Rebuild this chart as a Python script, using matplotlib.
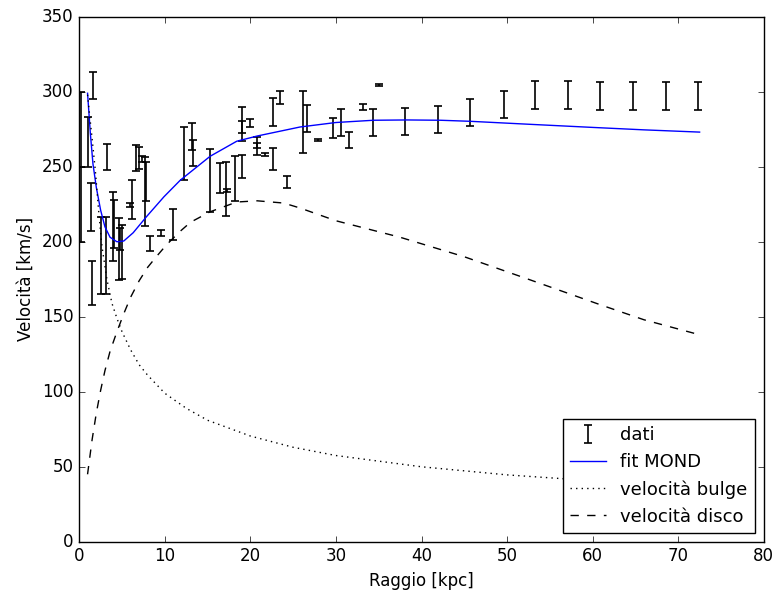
import matplotlib
matplotlib.use('Agg')
import matplotlib.pyplot as plt

# dati osservati: raggio [kpc], velocita [km/s], errore [km/s]
r_dati = [0.25, 0.25, 0.97, 1.4, 1.5, 1.65, 2.5, 3.1, 3.2, 4.0, 4.1, 4.6, 4.8, 5.0,
          5.9, 6.15, 6.6, 7.0, 7.3, 7.7, 7.75, 8.3, 9.5, 11.0, 12.2, 13.2, 13.3,
          15.3, 16.4, 17.2, 17.3, 18.2, 19.0, 19.05, 19.0, 20.0, 20.75, 20.8, 21.7,
          22.7, 22.7, 23.5, 24.3, 26.1, 26.6, 27.9, 29.6, 30.6, 31.5, 33.2, 34.3,
          35.0, 38.1, 41.9, 45.7, 49.6, 53.3, 57.1, 60.9, 64.7, 68.6, 72.3]
v_dati = [274.8, 224.8, 266.5, 223.0, 172.7, 304.2, 191.0, 191.0, 256.7, 210.2, 212.0,
          195.3, 202.0, 193.0, 224.6, 228.0, 255.8, 256.0, 255.2, 233.5, 240.4, 198.8,
          205.8, 211.5, 258.7, 270.4, 258.9, 240.8, 242.4, 235.2, 234.4, 241.9, 278.8,
          276.5, 250.3, 279.4, 263.9, 264.1, 258.0, 286.3, 255.3, 296.4, 239.9, 279.8,
          282.1, 268.0, 275.8, 279.7, 267.8, 290.0, 279.7, 304.4, 280.2, 281.3, 286.4,
          291.2, 297.8, 297.8, 297.1, 297.1, 297.1, 297.1]
e_dati = [25.0, 25.0, 16.7, 16.0, 14.7, 8.9, 25.5, 25.5, 8.7, 23.3, 16.0, 20.6, 7.3,
          18.0, 1.1, 12.9, 8.9, 7.5, 1.7, 23.3, 13.1, 5.2, 1.8, 10.4, 17.6, 9.1, 8.7,
          20.8, 10.0, 18.2, 1.0, 15.0, 11.3, 3.7, 7.8, 2.6, 5.9, 1.7, 1.1, 9.4, 7.2,
          4.4, 4.1, 20.9, 8.8, 0.5, 6.7, 9.0, 5.1, 2.0, 9.0, 0.5, 8.9, 8.9, 8.9, 9.0,
          9.1, 9.1, 9.1, 9.1, 9.1, 9.1]

# curve del modello
r_mond = [0.97, 1.3, 1.6, 2.0, 2.5, 3.0, 3.6, 4.4, 5.2, 6.3, 7.9, 9.9, 11.8, 15.3,
          18.4, 20.8, 25.8, 30.0, 34.4, 38.3, 42.2, 45.7, 52.3, 60.1, 66.0, 72.5]
v_mond = [299, 272, 252, 236, 221, 210, 203, 200, 200.5, 206, 217, 230, 241, 257,
          267, 270.5, 276.5, 279.5, 281, 281.2, 281, 280.3, 278.4, 276.2, 274.6, 273.1]

r_bulge = [0.97, 1.2, 1.48, 1.87, 2.26, 2.65, 3.23, 3.82, 4.4, 5.0, 6.0, 7.0, 8.0,
           10.0, 12.5, 15.0, 20.0, 25.0, 30.0, 40.0, 50.0, 60.0, 72.5]
v_bulge = [298, 285, 270, 248, 221, 197, 175, 159, 149, 140, 128, 118, 111,
           99, 89, 81, 70.5, 63, 57.5, 50, 44.6, 40.7, 37]

r_disco = [0.97, 1.5, 2.0, 2.5, 3.0, 3.6, 4.4, 5.2, 6.0, 7.0, 8.0, 9.0, 10.2, 11.8,
           13.0, 15.3, 18.4, 20.8, 23.9, 25.8, 30.0, 37.5, 45.0, 52.0, 60.9, 66.0, 72.5]
v_disco = [45, 68, 86, 101, 114, 127, 140, 152, 163, 174, 183, 190, 198, 207,
           213, 220, 226.5, 227.3, 225.8, 222.5, 214, 203, 190, 176, 158, 148, 138]

plt.style.use('classic')
fig = plt.figure(figsize=(7.77, 5.98), dpi=100, facecolor='white')
ax = fig.add_axes([0.102, 0.094, 0.881, 0.878])

ax.errorbar(r_dati, v_dati, yerr=e_dati, fmt='none', ecolor='k', capsize=3,
            elinewidth=1.2, capthick=1.2, label='dati')
ax.plot(r_mond, v_mond, 'b-', label='fit MOND')
ax.plot(r_bulge, v_bulge, 'k:', label='velocità bulge')
ax.plot(r_disco, v_disco, 'k--', label='velocità disco')

ax.set_xlim(0, 80)
ax.set_ylim(0, 350)
ax.set_xlabel('Raggio [kpc]')
ax.set_ylabel('Velocità [km/s]')

h, l = ax.get_legend_handles_labels()
ordine = [3, 0, 1, 2]
ax.legend([h[i] for i in ordine], [l[i] for i in ordine], loc='lower right',
          numpoints=1, fontsize=13)

fig.savefig('out.png', dpi=100, facecolor='white')
